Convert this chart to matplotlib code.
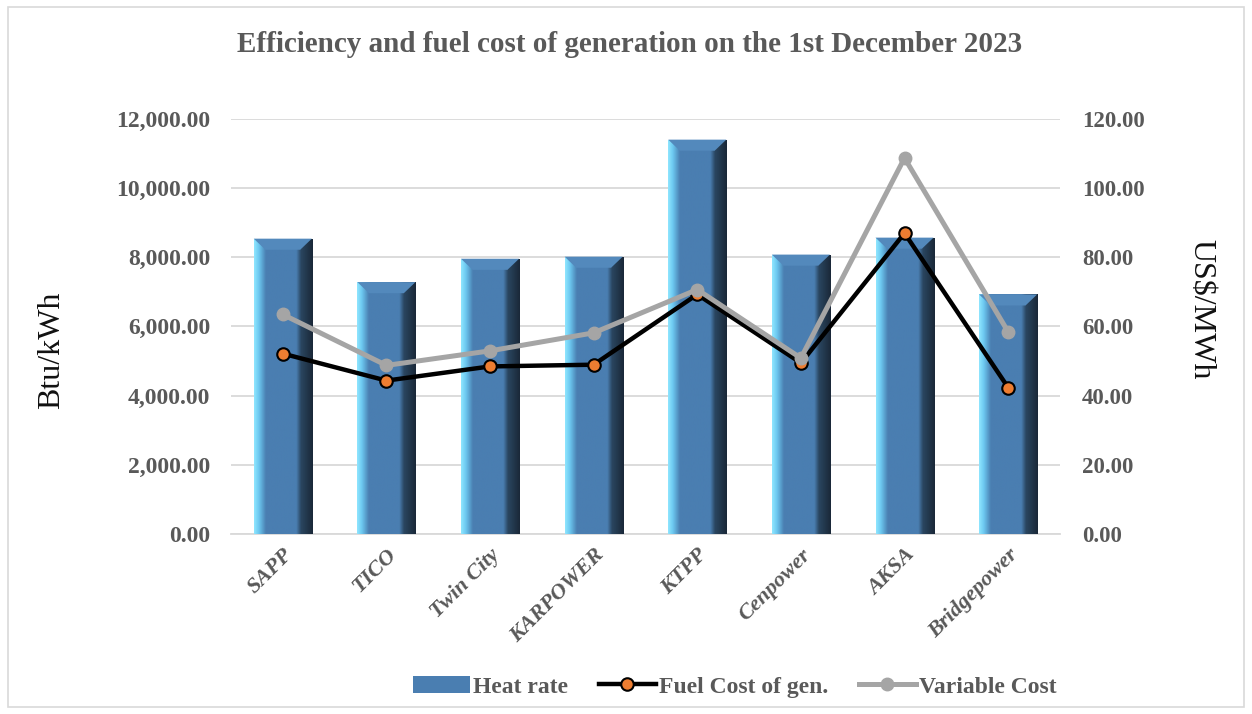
import numpy as np
import matplotlib
matplotlib.use("Agg")
import matplotlib.pyplot as plt
import matplotlib.transforms as mtransforms
from matplotlib.colors import LinearSegmentedColormap
from matplotlib.patches import Rectangle, Patch
from matplotlib.lines import Line2D
from matplotlib.ticker import FuncFormatter

#------------------------------------------------------------------------------
# DATA
#------------------------------------------------------------------------------
plants = ["SAPP", "TICO", "Twin City", "KARPOWER", "KTPP", "Cenpower", "AKSA", "Bridgepower"]
heat_rate = [8530, 7275, 7950, 8010, 11390, 8070, 8560, 6920]          # Btu/kWh
fuel_cost = [52.1, 44.3, 48.4, 48.9, 69.2, 49.4, 86.9, 42.3]           # US$/MWh
variable_cost = [63.4, 48.7, 52.9, 58.1, 70.6, 50.8, 108.6, 58.4]      # US$/MWh

GREY = "#595959"
plt.rcParams['font.family'] = ['Liberation Serif', 'DejaVu Serif']

fig = plt.figure(figsize=(12.52, 7.14), dpi=100)
ax = fig.add_axes([0.1845, 0.2521, 0.6621, 0.5819])
ax2 = ax.twinx()

#------------------------------------------------------------------------------
# BARS (gradient fill)
#------------------------------------------------------------------------------
x = np.arange(len(plants))
bars = ax.bar(x, heat_rate, width=0.56, color="#4A7EB1", zorder=2)

grad = LinearSegmentedColormap.from_list(
    "bar", [(0.0, "#8FE6FF"), (0.08, "#6CC8F0"), (0.2, "#4A7EB1"),
            (0.72, "#4A7EB1"), (0.8, "#2A4660"), (1.0, "#1A2838")])
strip = np.linspace(0, 1, 200).reshape(1, -1)
for b in bars:
    x0, w, h = b.get_x(), b.get_width(), b.get_height()
    im = ax.imshow(strip, cmap=grad, aspect="auto", extent=[x0, x0 + w, 0, h],
                   zorder=3, interpolation="bilinear")
    im.set_clip_path(b)
    # bevelled top
    d = w * 0.2
    dh = 320
    ax.fill([x0, x0 + w, x0 + w - d, x0 + d], [h, h, h - dh, h - dh],
            color="#5389BC", zorder=4, lw=0)

ax.set_xlim(-0.5, len(plants) - 0.5)
ax.set_ylim(0, 12000)
ax.set_yticks(np.arange(0, 12001, 2000))
ax.yaxis.set_major_formatter(FuncFormatter(lambda v, p: f"{v:,.2f}"))
ax.grid(axis="y", color="#D9D9D9", lw=1.3, zorder=0)
ax.set_axisbelow(True)
ax.set_xticks(x)
ax.set_xticklabels(plants, rotation=45, ha="right", rotation_mode="anchor",
                   fontsize=16, style="italic", fontweight="bold", color=GREY)
shift = mtransforms.ScaledTranslation(-12 / 100, 0, fig.dpi_scale_trans)
for t in ax.get_xticklabels():
    t.set_transform(t.get_transform() + shift)
ax.tick_params(axis="x", length=0, pad=8)
ax.tick_params(axis="y", length=0, pad=15, labelsize=17, labelcolor=GREY)
for t in ax.get_yticklabels():
    t.set_fontweight("bold")
for s in ["top", "left", "right"]:
    ax.spines[s].set_visible(False)
ax.spines["bottom"].set_color("#D9D9D9")
ax.spines["bottom"].set_linewidth(1.3)
ax.set_ylabel("Btu/kWh", fontsize=23, color="#111111")
ax.yaxis.set_label_coords(-0.199, 0.443)

#------------------------------------------------------------------------------
# LINES
#------------------------------------------------------------------------------
ax2.plot(x, fuel_cost, color="black", lw=3.2, marker="o", ms=9,
         mfc="#ED7D31", mec="black", mew=1.5, zorder=3)
ax2.plot(x, variable_cost, color="#A5A5A5", lw=3.6, marker="o", ms=9,
         mfc="#A5A5A5", mec="#A5A5A5", zorder=4)
ax2.set_ylim(0, 120)
ax2.set_yticks(np.arange(0, 121, 20))
ax2.yaxis.set_major_formatter(FuncFormatter(lambda v, p: f"{v:.2f}"))
ax2.tick_params(axis="y", length=0, pad=16, labelsize=16.5, labelcolor=GREY)
for t in ax2.get_yticklabels():
    t.set_fontweight("bold")
for s in ["top", "left", "right", "bottom"]:
    ax2.spines[s].set_visible(False)
ax2.set_ylabel("US$/MWh", fontsize=23, rotation=-90, color="#111111")
ax2.yaxis.set_label_coords(1.187, 0.54)

#------------------------------------------------------------------------------
# TITLE, LEGEND, BORDER
#------------------------------------------------------------------------------
fig.text(0.503, 0.938, "Efficiency and fuel cost of generation on the 1st December 2023",
         ha="center", va="center", fontsize=21, fontweight="bold", color=GREY)

handles = [Patch(facecolor="#4A7EB1", edgecolor="none"),
           Line2D([], [], color="black", lw=3.2, marker="o", ms=9,
                  mfc="#ED7D31", mec="black", mew=1.5),
           Line2D([], [], color="#A5A5A5", lw=3.6, marker="o", ms=9,
                  mfc="#A5A5A5", mec="#A5A5A5")]
leg = fig.legend(handles, ["Heat rate", "Fuel Cost of gen.", "Variable Cost"],
                 loc="center", bbox_to_anchor=(0.587, 0.038), ncol=3, frameon=False,
                 prop={"size": 17, "weight": "bold"}, labelcolor=GREY,
                 handlelength=2.4, handletextpad=0.15, columnspacing=1.3)

fig.add_artist(Rectangle((0.006, 0.01), 0.988, 0.98, transform=fig.transFigure,
                         fill=False, edgecolor="#D9D9D9", lw=1.2))

fig.savefig("out.png", dpi=100)
